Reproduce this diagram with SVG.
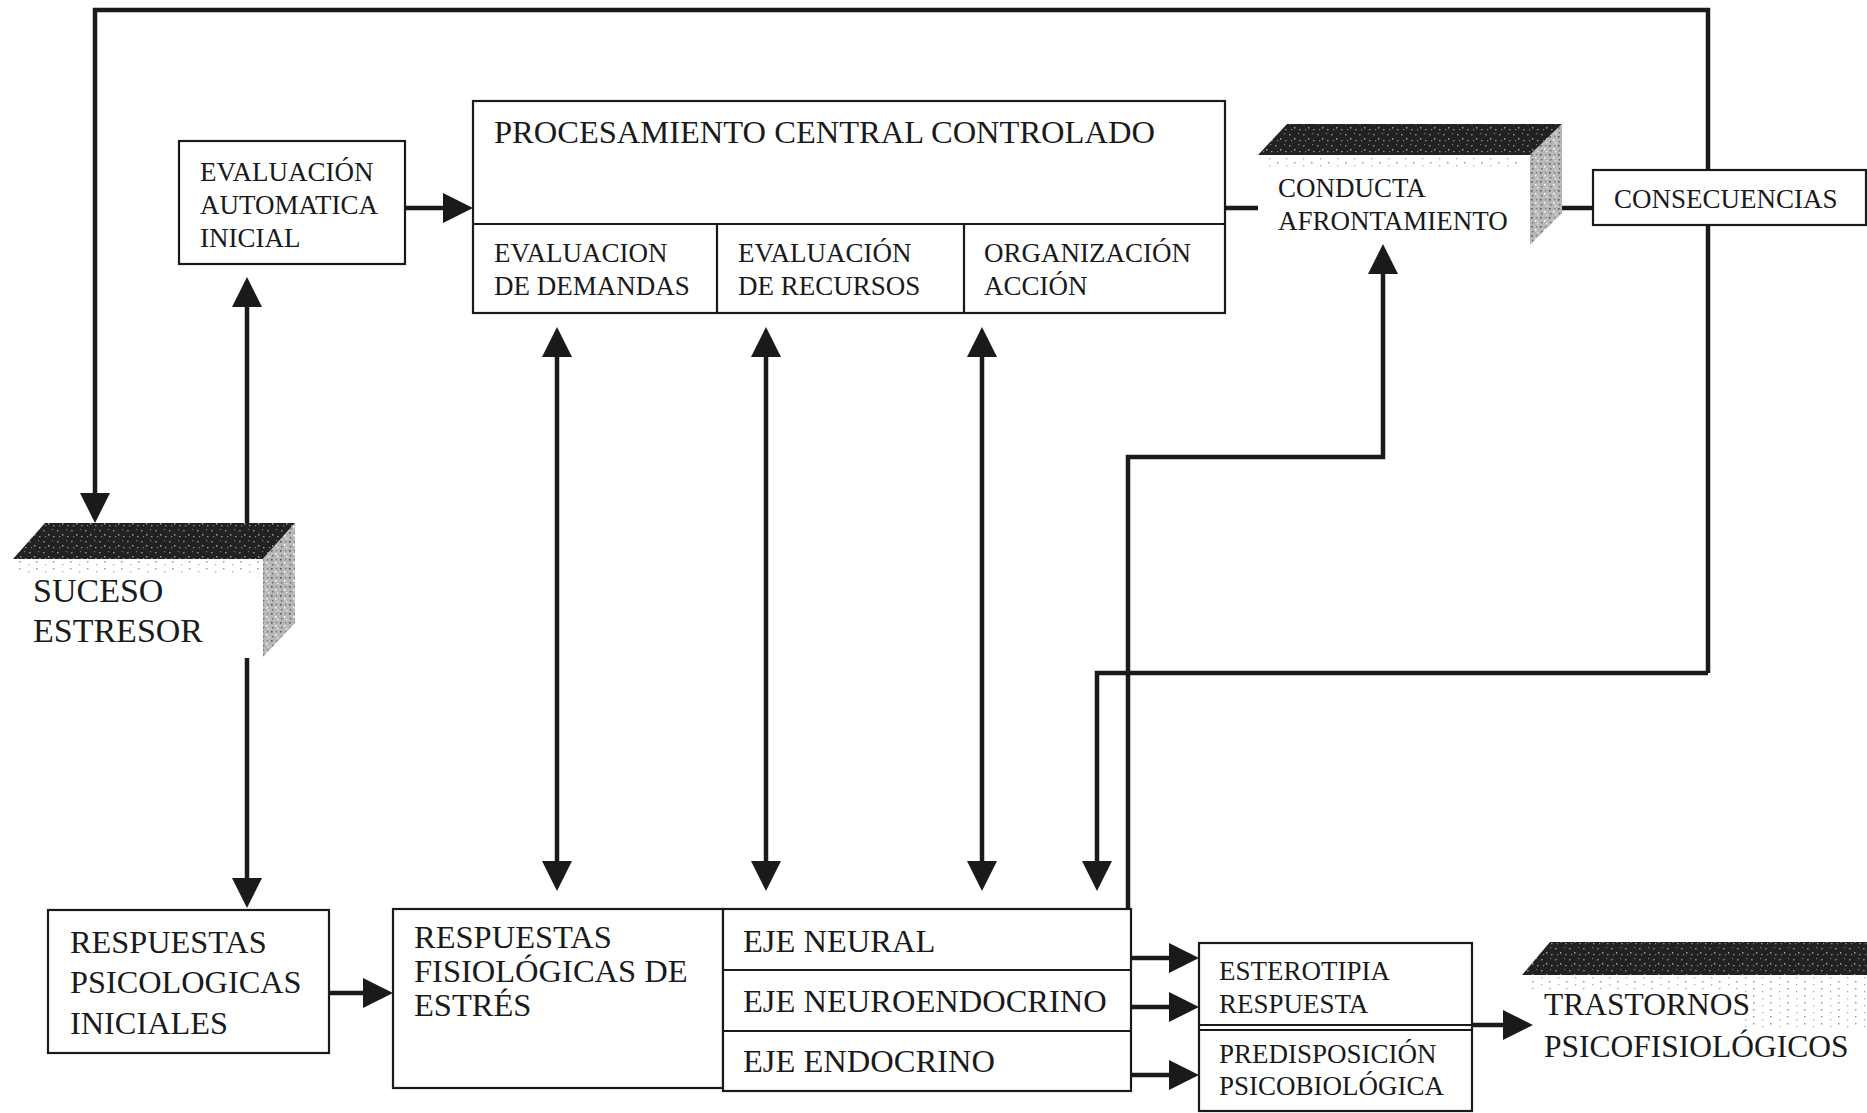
<svg xmlns="http://www.w3.org/2000/svg" width="1867" height="1113" viewBox="0 0 1867 1113">
<style>
.box{fill:#fff;stroke:#1a1a1a;stroke-width:2.2}
.ln{fill:none;stroke:#1a1a1a;stroke-width:2.2}
.con{fill:none;stroke:#1a1a1a;stroke-width:4.5}
.arr{marker-end:url(#ah)}
.arr2{marker-start:url(#ah);marker-end:url(#ah)}
text{font-family:"Liberation Serif","Times New Roman",serif;fill:#1a1a1a}
.t27{font-size:27px}
.t26{font-size:27px}
.t32{font-size:32.5px}
.t33{font-size:34px}
.t31{font-size:32.3px}
.t31b{font-size:31.5px}
.dark{fill:url(#darkSpk)}
.side{fill:url(#sideSpk)}
.dots{fill:url(#dotSpk)}
</style>
<defs>
<marker id="ah" markerUnits="userSpaceOnUse" markerWidth="30" markerHeight="30" viewBox="0 0 30 30" refX="22" refY="15" orient="auto-start-reverse">
<path d="M0,0 L30,15 L0,30 Z" fill="#1a1a1a"/>
</marker>
<pattern id="darkSpk" width="14" height="11" patternUnits="userSpaceOnUse">
<rect width="14" height="11" fill="#222"/>
<rect x="1" y="2" width="1.6" height="1.4" fill="#8a8a8a"/>
<rect x="6" y="6" width="1.4" height="1.6" fill="#a0a0a0"/>
<rect x="10" y="1" width="1.2" height="1.2" fill="#777"/>
<rect x="3" y="8" width="1.2" height="1.2" fill="#888"/>
<rect x="11" y="8" width="1.5" height="1.2" fill="#999"/>
</pattern>
<pattern id="sideSpk" width="9" height="9" patternUnits="userSpaceOnUse">
<rect width="9" height="9" fill="#b8b8b8"/>
<rect x="1" y="1" width="1.6" height="1.6" fill="#555"/>
<rect x="5" y="4" width="1.5" height="1.5" fill="#fff"/>
<rect x="2" y="6" width="1.4" height="1.4" fill="#666"/>
<rect x="7" y="7" width="1.3" height="1.3" fill="#eee"/>
<rect x="6" y="1" width="1.2" height="1.2" fill="#777"/>
</pattern>
<pattern id="dotSpk" width="17" height="7" patternUnits="userSpaceOnUse">
<rect x="2" y="1" width="1.5" height="1.5" fill="#999"/>
<rect x="11" y="4" width="1.3" height="1.3" fill="#aaa"/>
</pattern>
</defs>
<rect width="1867" height="1113" fill="#fff"/>

<g id="connectors">
<path class="con arr" d="M1708,673 V10 H95 V515"/>
<path class="con arr" d="M1708,673 H1097 V883"/>
<path class="con arr" d="M1128,911 V457 H1383 V252"/>
<path class="con arr" d="M247,528 V285"/>
<path class="con arr" d="M247,658 V900"/>
<path class="con arr" d="M405,208 H465"/>
<path class="con arr" d="M329,993 H385"/>
<path class="con arr2" d="M557,335 V883"/>
<path class="con arr2" d="M766,335 V883"/>
<path class="con arr2" d="M982,335 V883"/>
<path class="con arr" d="M1131,958 H1191"/>
<path class="con arr" d="M1131,1007 H1191"/>
<path class="con arr" d="M1131,1075 H1191"/>
<path class="con arr" d="M1472,1025 H1525"/>
<path class="con" d="M1225,208 H1258"/>
<path class="con" d="M1562,208 H1593"/>
</g>

<g id="evaluacion-automatica">
<rect class="box" x="179" y="141" width="226" height="123"/>
<text class="t26" x="200" y="181">EVALUACIÓN</text>
<text class="t26" x="200" y="214">AUTOMATICA</text>
<text class="t26" x="200" y="247">INICIAL</text>
</g>

<g id="procesamiento">
<rect class="box" x="473" y="101" width="752" height="212"/>
<line class="ln" x1="473" y1="224" x2="1225" y2="224"/>
<line class="ln" x1="717" y1="224" x2="717" y2="313"/>
<line class="ln" x1="964" y1="224" x2="964" y2="313"/>
<text class="t32" x="494" y="143">PROCESAMIENTO CENTRAL CONTROLADO</text>
<text class="t27" x="494" y="262">EVALUACION</text>
<text class="t27" x="494" y="295">DE DEMANDAS</text>
<text class="t27" x="738" y="262">EVALUACIÓN</text>
<text class="t27" x="738" y="295">DE RECURSOS</text>
<text class="t27" x="984" y="262">ORGANIZACIÓN</text>
<text class="t27" x="984" y="295">ACCIÓN</text>
</g>

<g id="conducta-afrontamiento">
<rect class="dots" x="1262" y="157" width="262" height="10"/>
<polygon class="dark" points="1258,155 1287,124 1562,124 1530,155"/>
<polygon class="side" points="1530,155 1562,124 1562,213 1530,245"/>
<text class="t27" x="1278" y="197">CONDUCTA</text>
<text class="t27" x="1278" y="230">AFRONTAMIENTO</text>
</g>

<g id="consecuencias">
<rect class="box" x="1593" y="170" width="273" height="55"/>
<text class="t27" x="1614" y="208">CONSECUENCIAS</text>
</g>

<g id="suceso-estresor">
<rect class="dots" x="14" y="561" width="246" height="14"/>
<polygon class="dark" points="13,559 45,523 295,523 263,559"/>
<polygon class="side" points="263,559 295,523 295,623 263,657"/>
<text class="t33" x="33" y="602">SUCESO</text>
<text class="t33" x="33" y="642">ESTRESOR</text>
</g>

<g id="respuestas-psicologicas">
<rect class="box" x="48" y="910" width="281" height="143"/>
<text class="t31" x="70" y="953">RESPUESTAS</text>
<text class="t31" x="70" y="993">PSICOLOGICAS</text>
<text class="t31" x="70" y="1034">INICIALES</text>
</g>

<g id="respuestas-fisiologicas">
<rect class="box" x="393" y="909" width="330" height="179"/>
<text class="t32" x="414" y="948">RESPUESTAS</text>
<text class="t32" x="414" y="982">FISIOLÓGICAS DE</text>
<text class="t32" x="414" y="1016">ESTRÉS</text>
</g>

<g id="ejes">
<rect class="box" x="723" y="909" width="408" height="182"/>
<line class="ln" x1="723" y1="970" x2="1131" y2="970"/>
<line class="ln" x1="723" y1="1031" x2="1131" y2="1031"/>
<text class="t32" x="743" y="952">EJE NEURAL</text>
<text class="t32" x="743" y="1012">EJE NEUROENDOCRINO</text>
<text class="t32" x="743" y="1072">EJE ENDOCRINO</text>
</g>

<g id="esterotipia-predisposicion">
<rect class="box" x="1199" y="943" width="273" height="168"/>
<line class="ln" x1="1199" y1="1025" x2="1472" y2="1025"/>
<line class="ln" x1="1199" y1="1030" x2="1472" y2="1030"/>
<text class="t26" x="1219" y="980">ESTEROTIPIA</text>
<text class="t26" x="1219" y="1013">RESPUESTA</text>
<text class="t26" x="1219" y="1063">PREDISPOSICIÓN</text>
<text class="t26" x="1219" y="1095">PSICOBIOLÓGICA</text>
</g>

<g id="trastornos">
<rect class="dots" x="1530" y="977" width="337" height="12"/>
<rect class="dots" x="1745" y="989" width="122" height="40"/>
<polygon class="dark" points="1522,975 1550,942 1867,942 1867,975"/>
<text class="t31b" x="1544" y="1015">TRASTORNOS</text>
<text class="t31b" x="1544" y="1057">PSICOFISIOLÓGICOS</text>
</g>
</svg>
